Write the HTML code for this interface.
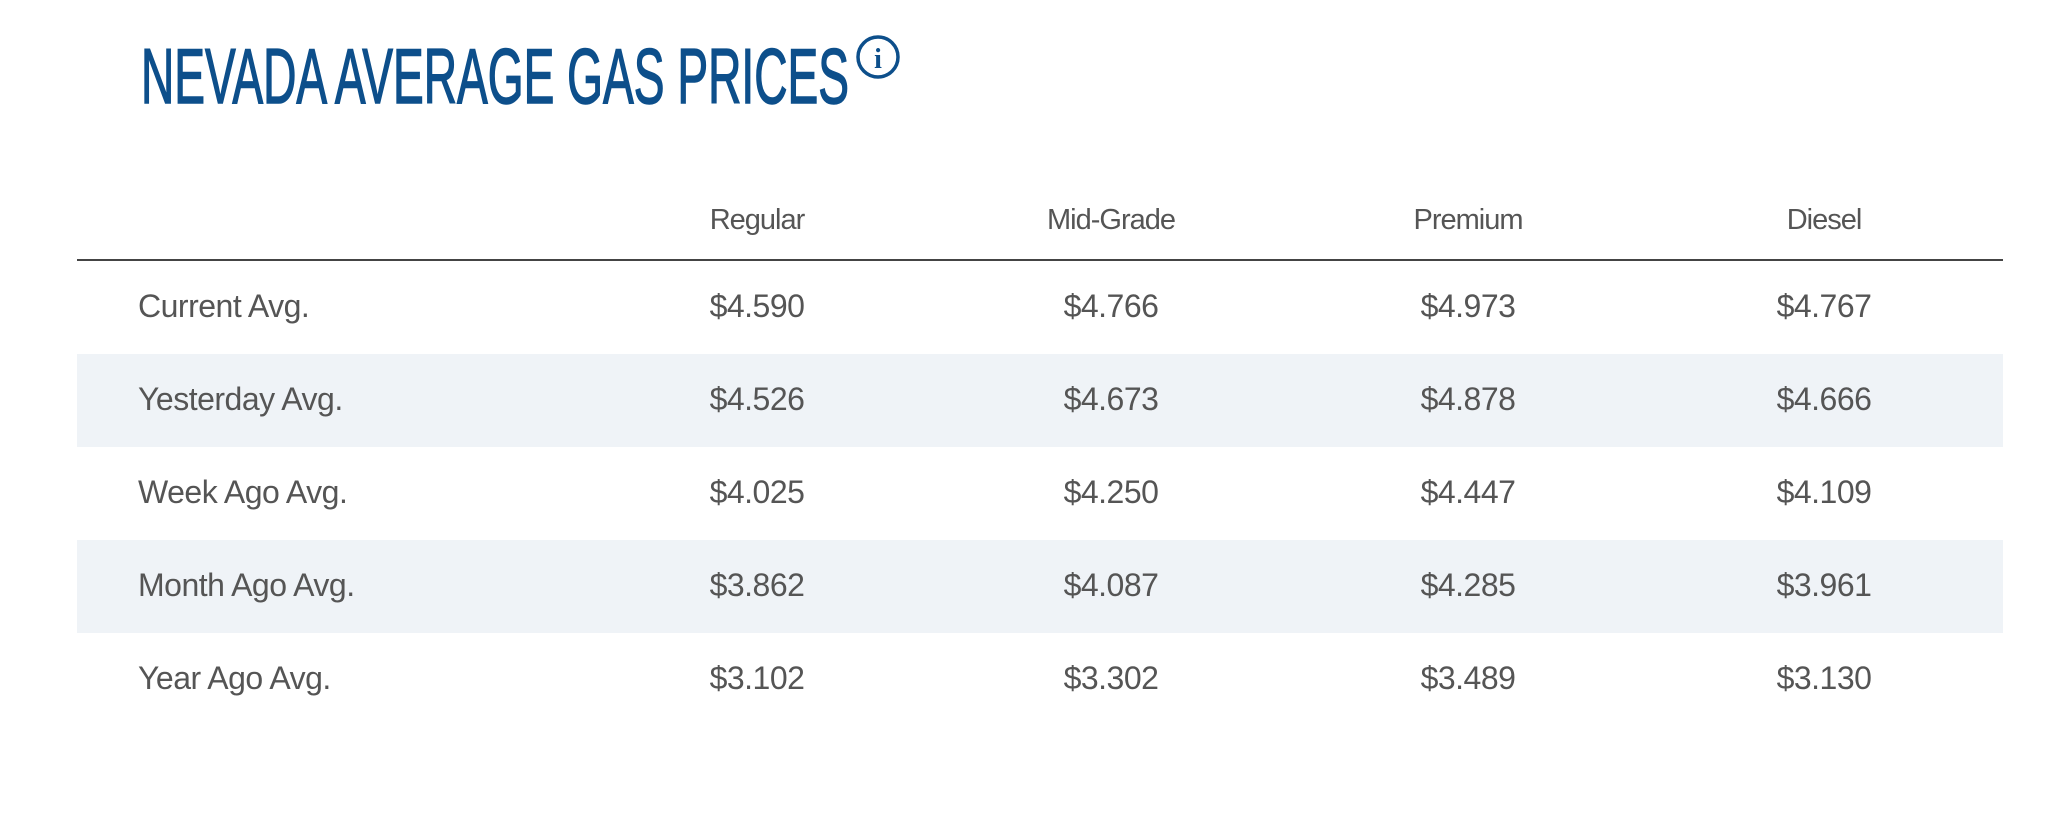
<!DOCTYPE html>
<html><head><meta charset="utf-8"><style>
html,body{margin:0;padding:0;background:#fff;width:2048px;height:831px;overflow:hidden;font-family:"Liberation Sans",sans-serif;}
.abs{position:absolute;}
.hdr{position:absolute;top:204px;font-size:29px;color:#555;transform:translateX(-50%);white-space:nowrap;letter-spacing:-1px}
.row{position:absolute;left:77px;width:1926px;height:93px;}
.row.s{background:#eff3f7;}
.lbl{position:absolute;left:61px;top:27px;font-size:32px;color:#555;letter-spacing:-0.5px;white-space:nowrap}
.v{position:absolute;top:27px;font-size:32px;color:#555;transform:translateX(-50%);letter-spacing:-0.5px}
</style></head><body>
<svg class="abs" style="left:0;top:0" width="1000" height="130">
<text x="141" y="103" font-family="'Liberation Sans Narrow','Liberation Sans',sans-serif" font-size="78" fill="#0d4f8b" stroke="#0d4f8b" stroke-width="1.5" textLength="708" lengthAdjust="spacingAndGlyphs">NEVADA AVERAGE GAS PRICES</text>
<circle cx="878" cy="57" r="20" fill="none" stroke="#0d4f8b" stroke-width="3.5"/>
<text x="878" y="68" text-anchor="middle" font-family="'Liberation Serif',serif" font-weight="bold" font-size="28" fill="#0d4f8b">i</text>
</svg>
<div class="hdr" style="left:757px">Regular</div>
<div class="hdr" style="left:1111px">Mid-Grade</div>
<div class="hdr" style="left:1468px">Premium</div>
<div class="hdr" style="left:1824px">Diesel</div>
<div class="abs" style="left:77px;top:259px;width:1926px;height:2px;background:#444"></div>

<div class="row" style="top:261px"><div class="lbl">Current Avg.</div><div class="v" style="left:680px">$4.590</div><div class="v" style="left:1034px">$4.766</div><div class="v" style="left:1391px">$4.973</div><div class="v" style="left:1747px">$4.767</div></div>
<div class="row s" style="top:354px"><div class="lbl">Yesterday Avg.</div><div class="v" style="left:680px">$4.526</div><div class="v" style="left:1034px">$4.673</div><div class="v" style="left:1391px">$4.878</div><div class="v" style="left:1747px">$4.666</div></div>
<div class="row" style="top:447px"><div class="lbl">Week Ago Avg.</div><div class="v" style="left:680px">$4.025</div><div class="v" style="left:1034px">$4.250</div><div class="v" style="left:1391px">$4.447</div><div class="v" style="left:1747px">$4.109</div></div>
<div class="row s" style="top:540px"><div class="lbl">Month Ago Avg.</div><div class="v" style="left:680px">$3.862</div><div class="v" style="left:1034px">$4.087</div><div class="v" style="left:1391px">$4.285</div><div class="v" style="left:1747px">$3.961</div></div>
<div class="row" style="top:633px"><div class="lbl">Year Ago Avg.</div><div class="v" style="left:680px">$3.102</div><div class="v" style="left:1034px">$3.302</div><div class="v" style="left:1391px">$3.489</div><div class="v" style="left:1747px">$3.130</div></div>
</body></html>
